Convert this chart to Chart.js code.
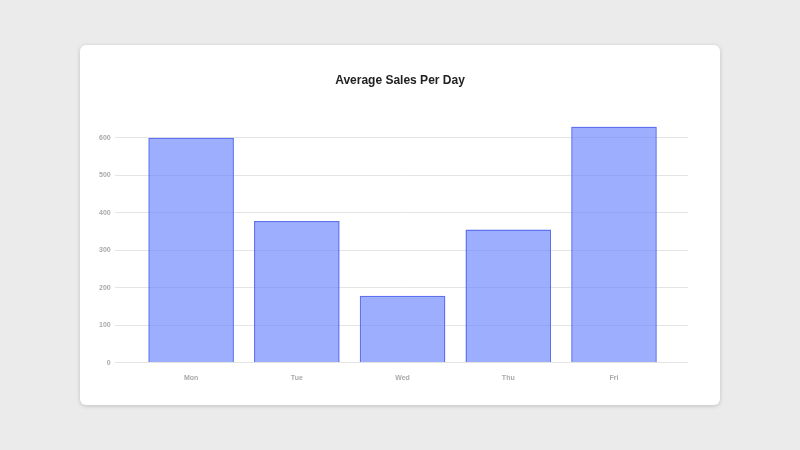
<!DOCTYPE html>
<html>
<head>
<meta charset="utf-8">
<script src="https://cdn.jsdelivr.net/npm/chart.js@4/dist/chart.umd.min.js"></script>
<style>
  html, body { margin: 0; padding: 0; background: #ebebeb; width: 800px; height: 450px; overflow: hidden; }
  .card { position: absolute; left: 80px; top: 45px; width: 640px; height: 360px; background: #fff; border-radius: 6px; box-shadow: 0 1px 4px rgba(0,0,0,0.18); }
  canvas { position: absolute; left: 0; top: 0; }
</style>
</head>
<body>
<div class="card"><canvas id="c" width="640" height="360"></canvas></div>
<script>
const categories = ['Mon', 'Tue', 'Wed', 'Thu', 'Fri'];
const sales = [600, 378, 178, 355, 630];
const chartTitle = 'Average Sales Per Day';

const font = { family: 'Liberation Sans, Arial, sans-serif', size: 7, weight: 'bold' };

new Chart(document.getElementById('c'), {
  type: 'bar',
  data: {
    datasets: [{
      label: 'Sales',
      data: categories.map((c, i) => ({ x: i, y: sales[i] })),
      backgroundColor: 'rgba(110, 135, 255, 0.68)',
      borderColor: 'rgba(85, 105, 240, 0.95)',
      borderWidth: 1.5,
      barPercentage: 1.0,
      categoryPercentage: 0.81
    }]
  },
  options: {
    responsive: false,
    animation: false,
    layout: { padding: { left: 32, right: 32, top: 28, bottom: 20 } },
    plugins: {
      legend: { display: false },
      tooltip: { enabled: false },
      title: {
        display: true,
        text: chartTitle,
        color: '#222',
        font: { family: 'Liberation Sans, Arial, sans-serif', size: 12, weight: 'bold' },
        padding: { top: 0, bottom: 39 }
      }
    },
    scales: {
      x: {
        type: 'linear',
        min: -0.72,
        max: 4.70,
        offset: false,
        grid: { display: false },
        border: { display: false },
        ticks: {
          stepSize: 1,
          includeBounds: false,
          autoSkip: false,
          maxRotation: 0,
          color: '#aaa',
          font: font,
          padding: 3,
          callback: (v) => (Number.isInteger(v) && categories[v] !== undefined) ? categories[v] : ''
        }
      },
      y: {
        beginAtZero: true,
        max: Math.max(...sales),
        afterFit: (s) => { s.width = 3; },
        grid: { color: '#e4e4e4', drawTicks: false },
        border: { display: false },
        ticks: { stepSize: 100, includeBounds: false, mirror: true, crossAlign: 'far', color: '#aaa', font: font, padding: -16 }
      }
    }
  }
});
</script>
</body>
</html>
